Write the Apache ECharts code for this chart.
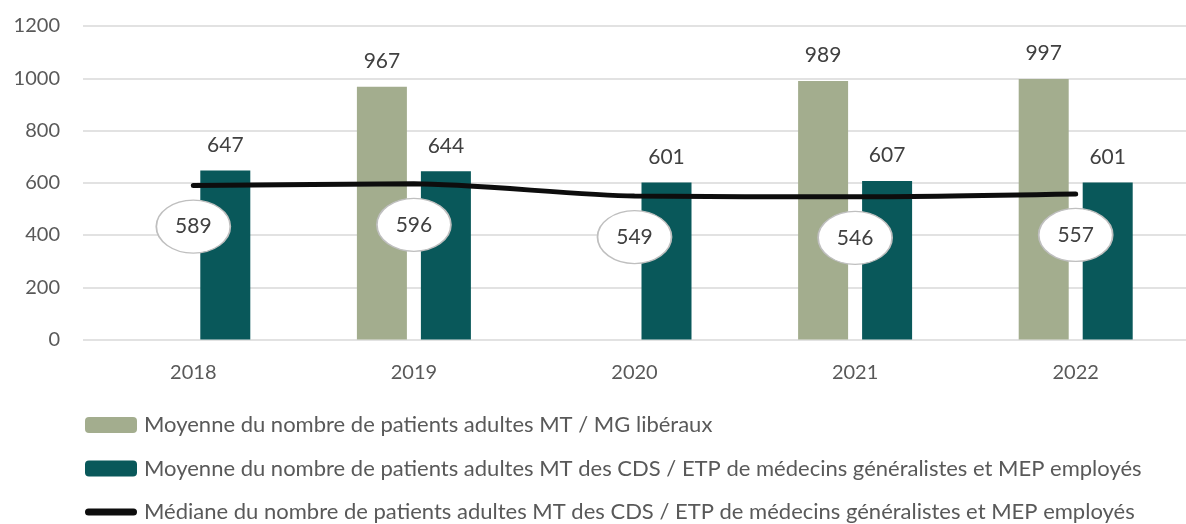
<!DOCTYPE html>
<html>
<head>
<meta charset="utf-8">
<script src="https://cdn.jsdelivr.net/npm/echarts@6/dist/echarts.min.js"></script>
<style>
  html, body { margin: 0; padding: 0; background: #fff; }
  #chart { width: 1186px; height: 524px; }
</style>
</head>
<body>
<div id="chart"></div>
<script>
// donnees
var years = ['2018', '2019', '2020', '2021', '2022'];
var moyLiberaux = [null, 967, null, 989, 997];
var moyCds = [647, 644, 601, 607, 601];
var medCds = [589, 596, 549, 546, 557];
var yTicks = [0, 200, 400, 600, 800, 1000, 1200];

var nomLib = 'Moyenne du nombre de patients adultes MT / MG libéraux';
var nomCds = 'Moyenne du nombre de patients adultes MT des CDS / ETP de médecins généralistes et MEP employés';
var nomMed = 'Médiane du nombre de patients adultes MT des CDS / ETP de médecins généralistes et MEP employés';

var police = 'Lato, "Liberation Sans", sans-serif';

var chart = echarts.init(document.getElementById('chart'), null, { renderer: 'canvas' });

var option = {
  animation: false,
  grid: { left: 83, right: -14, top: 26, bottom: 184.5 },
  legend: {
    orient: 'vertical',
    left: 85,
    top: 414,
    height: 140,
    padding: 0,
    itemWidth: 52,
    itemHeight: 16,
    itemGap: 21.5,
    data: [
      { name: nomLib },
      { name: nomCds },
      { name: nomMed, icon: 'path://M3.5,0 H48.5 A3.5,3.5 0 0,1 48.5,7 H3.5 A3.5,3.5 0 0,1 3.5,0 Z' }
    ],
    textStyle: { fontFamily: police, fontSize: 22, color: '#595959', lineHeight: 22, padding: [0, 0, 0, 2] }
  },
  xAxis: {
    type: 'category',
    data: years,
    axisLine: { show: false },
    axisTick: { show: false },
    axisLabel: { margin: 23, fontFamily: police, fontSize: 20, color: '#595959' }
  },
  yAxis: {
    type: 'value',
    min: yTicks[0],
    max: yTicks[yTicks.length - 1],
    interval: 200,
    axisLabel: {
      margin: 23, fontFamily: police, fontSize: 20, color: '#595959',
      formatter: function (v) { return String(v); }
    },
    splitLine: { lineStyle: { color: '#d9d9d9', width: 1.5 } }
  },
  series: [
    {
      name: nomLib,
      type: 'bar',
      data: moyLiberaux,
      barWidth: 50,
      barGap: '28%',
      itemStyle: { color: '#a3ad8e' },
      label: { show: true, position: 'top', distance: 15, fontFamily: police, fontSize: 21, color: '#404040' }
    },
    {
      name: nomCds,
      type: 'bar',
      data: moyCds,
      barWidth: 50,
      barGap: '28%',
      itemStyle: { color: '#09585a' },
      label: { show: true, position: 'top', distance: 15, fontFamily: police, fontSize: 21, color: '#404040' }
    },
    {
      name: nomMed,
      type: 'line',
      data: medCds,
      smooth: 0.25,
      symbol: 'none',
      z: 5,
      lineStyle: { color: '#0d0d0d', width: 5, cap: 'round' },
      itemStyle: { color: '#0d0d0d' }
    },
    {
      // bulles des etiquettes de la mediane
      name: 'etiquettes',
      type: 'scatter',
      data: medCds,
      z: 6,
      symbol: 'path://M0,50 A50,50 0 1,1 100,50 A50,50 0 1,1 0,50 Z',
      symbolSize: [74, 53],
      symbolOffset: [0, 41],
      itemStyle: { color: '#ffffff', borderColor: '#bfbfbf', borderWidth: 1.5, opacity: 1 },
      label: { show: true, position: 'inside', fontFamily: police, fontSize: 21, color: '#404040' }
    }
  ]
};

chart.setOption(option);
</script>
</body>
</html>
